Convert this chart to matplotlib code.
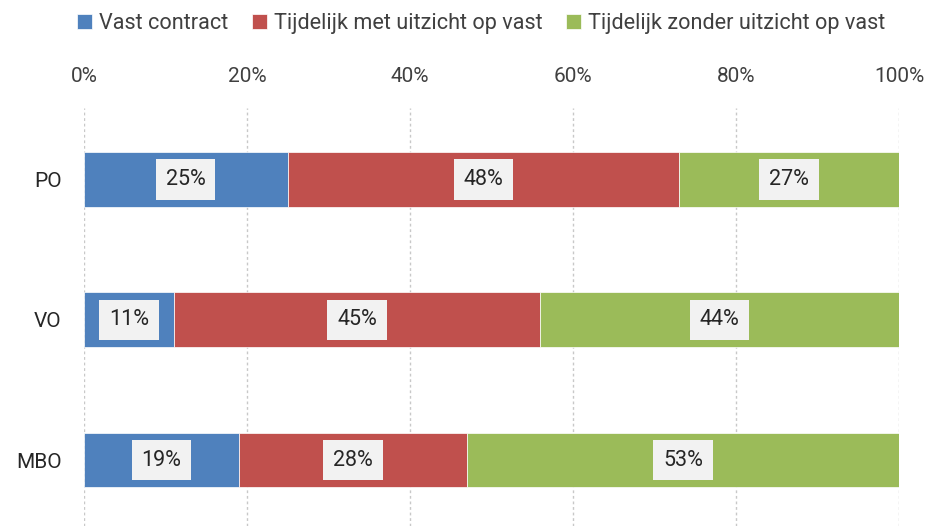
import matplotlib.pyplot as plt
from matplotlib.ticker import PercentFormatter

plt.rcParams['font.family'] = ['Roboto', 'DejaVu Sans']

categories = ["PO", "VO", "MBO"]
vast = [25, 11, 19]
met_uitzicht = [48, 45, 28]
zonder_uitzicht = [27, 44, 53]
series_names = ["Vast contract", "Tijdelijk met uitzicht op vast", "Tijdelijk zonder uitzicht op vast"]
colors = ["#4F81BD", "#C0504D", "#9BBB59"]

fig = plt.figure(figsize=(9.29, 5.26), dpi=100)
ax = fig.add_axes([84 / 929, 0.0, 815 / 929, 1 - 108 / 526])

left = [0, 0, 0]
for name, vals, col in zip(series_names, [vast, met_uitzicht, zonder_uitzicht], colors):
    bars = ax.barh(categories, vals, left=left, height=0.39, color=col, label=name,
                   edgecolor="white", linewidth=0.5, zorder=3)
    for b, v in zip(bars, vals):
        ax.text(b.get_x() + b.get_width() / 2, b.get_y() + b.get_height() / 2, f"{v}%",
                ha="center", va="center", fontsize=15.5, color="#262626", zorder=4,
                bbox=dict(boxstyle="square,pad=0.45", facecolor="#F2F2F2", edgecolor="none"))
    left = [l + v for l, v in zip(left, vals)]

ax.set_xlim(0, 100)
ax.set_ylim(2.47, -0.51)
ax.set_xticks([0, 20, 40, 60, 80, 100])
ax.xaxis.set_major_formatter(PercentFormatter(decimals=0))
ax.xaxis.tick_top()
ax.tick_params(axis="x", length=0, pad=16, labelsize=15, labelcolor="#404040")
ax.tick_params(axis="y", length=0, pad=16, labelsize=15, labelcolor="#262626")
ax.grid(axis="x", color="#C8C8C8", linestyle=(0, (2, 2)), linewidth=1, zorder=0)
for s in ax.spines.values():
    s.set_visible(False)

fig.legend(loc="upper center", bbox_to_anchor=(0.518, 1.012), ncol=3, frameon=False,
           fontsize=15.6, handlelength=0.7, handleheight=0.7, handletextpad=0.3,
           columnspacing=1.1, labelcolor="#404040")

fig.savefig("out.png", dpi=100)
